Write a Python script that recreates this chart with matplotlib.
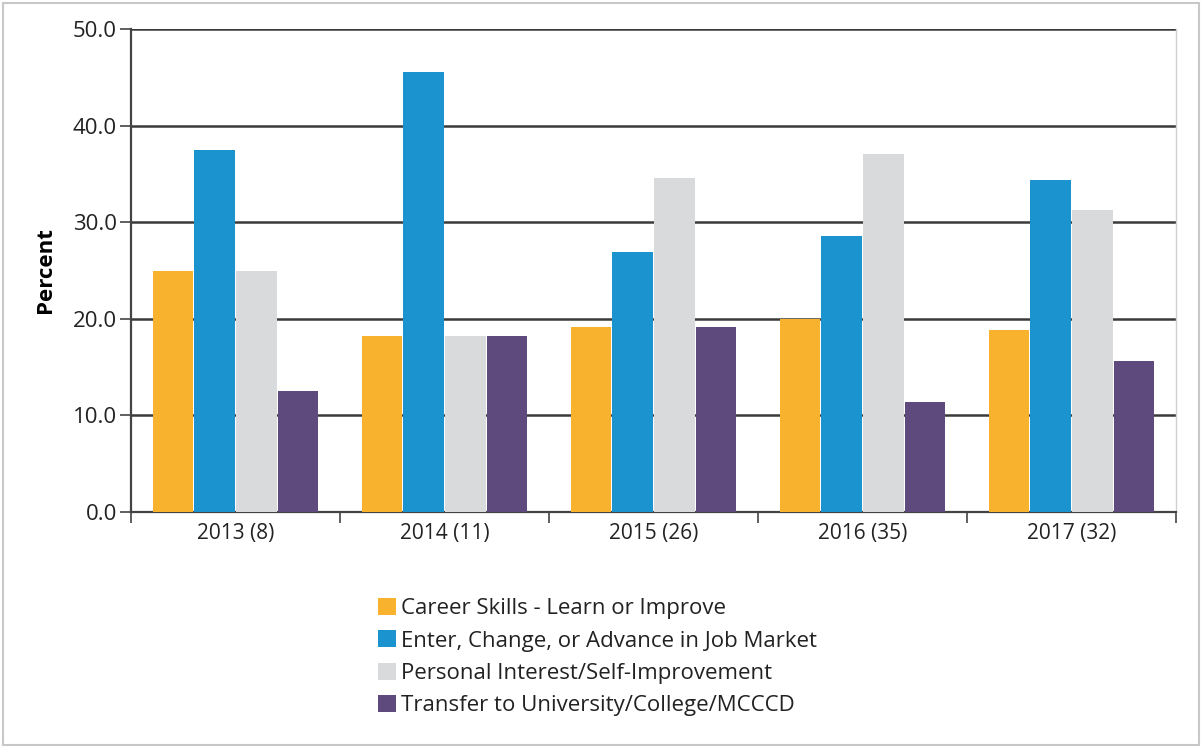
import numpy as np
import matplotlib
matplotlib.use("Agg")
import matplotlib.pyplot as plt
from matplotlib.patches import Rectangle

plt.rcParams['font.family'] = ['Open Sans', 'DejaVu Sans']

years = ["2013 (8)", "2014 (11)", "2015 (26)", "2016 (35)", "2017 (32)"]
series = [
    "Career Skills - Learn or Improve",
    "Enter, Change, or Advance in Job Market",
    "Personal Interest/Self-Improvement",
    "Transfer to University/College/MCCCD",
]
career = [25.0, 18.2, 19.2, 20.0, 18.8]
job_market = [37.5, 45.5, 26.9, 28.6, 34.4]
personal = [25.0, 18.2, 34.6, 37.1, 31.3]
transfer = [12.5, 18.2, 19.2, 11.4, 15.6]
colors = ["#F8B22E", "#1A93CF", "#D9DADC", "#5F4A7E"]

W, H = 1202, 748
fig = plt.figure(figsize=(W / 100, H / 100), dpi=100)
ax = fig.add_axes([131 / W, 1 - 512 / H, (1176 - 131) / W, (512 - 29) / H])

x = np.arange(len(years))
width = 0.2
for i, vals in enumerate([career, job_market, personal, transfer]):
    ax.bar(x - 0.3 + i * width, vals, width * 0.97, color=colors[i],
           label=series[i], zorder=3)

ax.set_xlim(-0.5, len(years) - 0.5)
ax.set_ylim(0, 50)
ax.set_yticks(np.arange(0, 51, 10))
ax.set_yticklabels([f"{v:.1f}" for v in np.arange(0, 51, 10)], fontsize=16,
                   color="#222222")
ax.yaxis.grid(True, color="#3a3a3a", linewidth=1.8, zorder=1)

ax.set_xticks(x)
ax.set_xticklabels(years, fontsize=15, color="#222222")
ax.tick_params(axis="x", length=0, pad=8)
ax.set_xticks(np.arange(-0.5, len(years)), minor=True)
ax.tick_params(axis="x", which="minor", length=8, width=1.2, color="#444444")
ax.tick_params(axis="y", length=8, width=1.2, color="#444444", pad=2)

for side in ["left", "bottom"]:
    ax.spines[side].set_color("#444444")
    ax.spines[side].set_linewidth(1.6)
ax.spines["top"].set_visible(False)
ax.spines["right"].set_color("#d0d0d0")
ax.spines["right"].set_linewidth(1)

ax.set_ylabel("Percent", fontsize=16, fontweight="bold", labelpad=12)

handles, labels = ax.get_legend_handles_labels()
leg = fig.legend(handles, labels, loc="upper left",
                 bbox_to_anchor=(358 / W, 1 - 578 / H), frameon=False,
                 fontsize=16, handlelength=0.8, handleheight=0.8,
                 handletextpad=0.25, labelspacing=0.5)
for t in leg.get_texts():
    t.set_color("#222222")

fig.patches.append(Rectangle((3 / W, 3 / H), 1 - 6 / W, 1 - 6 / H,
                             transform=fig.transFigure, fill=False,
                             edgecolor="#c8c8c8", linewidth=1.5))

fig.savefig("out.png", dpi=100)
